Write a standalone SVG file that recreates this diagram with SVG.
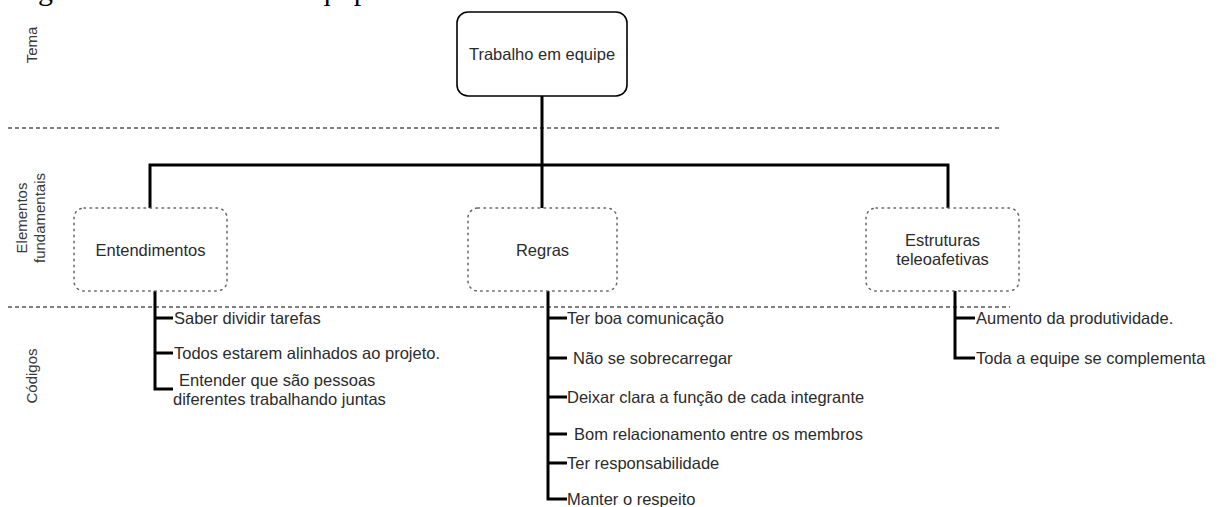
<svg xmlns="http://www.w3.org/2000/svg" width="1220" height="507" viewBox="0 0 1220 507">
  <style>
    .bg { fill: #ffffff; }
    .caption { font-family: "Liberation Serif", serif; font-size: 30px; fill: #000; }
    .t { font-family: "Liberation Sans", Arial, sans-serif; font-size: 16.5px; fill: #2b2b2b; }
    .side { font-family: "Liberation Sans", Arial, sans-serif; font-size: 15px; fill: #3a3a3a; }
    .sep { stroke: #555; stroke-width: 1.5; stroke-dasharray: 4 3; fill: none; }
    .theme { fill: #fff; stroke: #000; stroke-width: 1.6; }
    .elem { fill: #fff; stroke: #666; stroke-width: 1.5; stroke-dasharray: 1.5 4.5; stroke-linecap: round; }
    .wire { stroke: #000; stroke-width: 3; fill: none; stroke-linejoin: miter; }
  </style>

  <rect class="bg" x="0" y="0" width="1220" height="507"/>

  <!-- figure caption, running off the top edge -->
  <text class="caption" x="13" y="0">Figura 3 – Trabalho em equipe à luz da Análise de Conteúdo</text>

  <!-- row labels -->
  <g id="row-labels">
    <text class="side" transform="translate(37,45) rotate(-90)" text-anchor="middle">Tema</text>
    <text class="side" transform="translate(27,218) rotate(-90)" text-anchor="middle">Elementos</text>
    <text class="side" transform="translate(45,218) rotate(-90)" text-anchor="middle">fundamentais</text>
    <text class="side" transform="translate(37,376) rotate(-90)" text-anchor="middle">Códigos</text>
  </g>

  <!-- row separators -->
  <g id="separators">
    <line class="sep" x1="8" y1="128" x2="1000" y2="128"/>
    <line class="sep" x1="8" y1="307" x2="1010" y2="307"/>
  </g>

  <!-- connectors -->
  <g id="connectors">
    <path class="wire" d="M542,96 V165"/>
    <path class="wire" d="M150,208 V165 H948 V208"/>
    <path class="wire" d="M542,165 V208"/>

    <!-- Entendimentos codes -->
    <path class="wire" d="M155,290 V389 H173"/>
    <path class="wire" d="M155,318 H173"/>
    <path class="wire" d="M155,353 H173"/>

    <!-- Regras codes -->
    <path class="wire" d="M548,290 V499 H567"/>
    <path class="wire" d="M548,318 H567"/>
    <path class="wire" d="M548,358 H567"/>
    <path class="wire" d="M548,397 H567"/>
    <path class="wire" d="M548,434 H567"/>
    <path class="wire" d="M548,463 H567"/>

    <!-- Estruturas teleoafetivas codes -->
    <path class="wire" d="M955,290 V358 H975"/>
    <path class="wire" d="M955,318 H975"/>
  </g>

  <!-- theme -->
  <g id="node-tema">
    <rect class="theme" x="457" y="12" width="170" height="84" rx="11"/>
    <text class="t" x="542" y="60" text-anchor="middle">Trabalho em equipe</text>
  </g>

  <!-- fundamental elements -->
  <g id="node-entendimentos">
    <rect class="elem" x="74" y="208" width="153" height="83" rx="10"/>
    <text class="t" x="150.5" y="256" text-anchor="middle">Entendimentos</text>
  </g>
  <g id="node-regras">
    <rect class="elem" x="468" y="208" width="149" height="83" rx="10"/>
    <text class="t" x="542.5" y="256" text-anchor="middle">Regras</text>
  </g>
  <g id="node-estruturas">
    <rect class="elem" x="866" y="208" width="153" height="83" rx="10"/>
    <text class="t" x="942.5" y="246" text-anchor="middle">Estruturas</text>
    <text class="t" x="942.5" y="265" text-anchor="middle">teleoafetivas</text>
  </g>

  <!-- codes -->
  <g id="codes-entendimentos">
    <text class="t" x="174" y="324">Saber dividir tarefas</text>
    <text class="t" x="174" y="359">Todos estarem alinhados ao projeto.</text>
    <text class="t" x="179" y="386">Entender que são pessoas</text>
    <text class="t" x="173" y="405">diferentes trabalhando juntas</text>
  </g>
  <g id="codes-regras">
    <text class="t" x="567" y="324">Ter boa comunicação</text>
    <text class="t" x="573" y="364">Não se sobrecarregar</text>
    <text class="t" x="567" y="403">Deixar clara a função de cada integrante</text>
    <text class="t" x="574" y="440">Bom relacionamento entre os membros</text>
    <text class="t" x="567" y="469">Ter responsabilidade</text>
    <text class="t" x="567" y="505">Manter o respeito</text>
  </g>
  <g id="codes-estruturas">
    <text class="t" x="976" y="324">Aumento da produtividade.</text>
    <text class="t" x="976" y="364">Toda a equipe se complementa</text>
  </g>
</svg>
